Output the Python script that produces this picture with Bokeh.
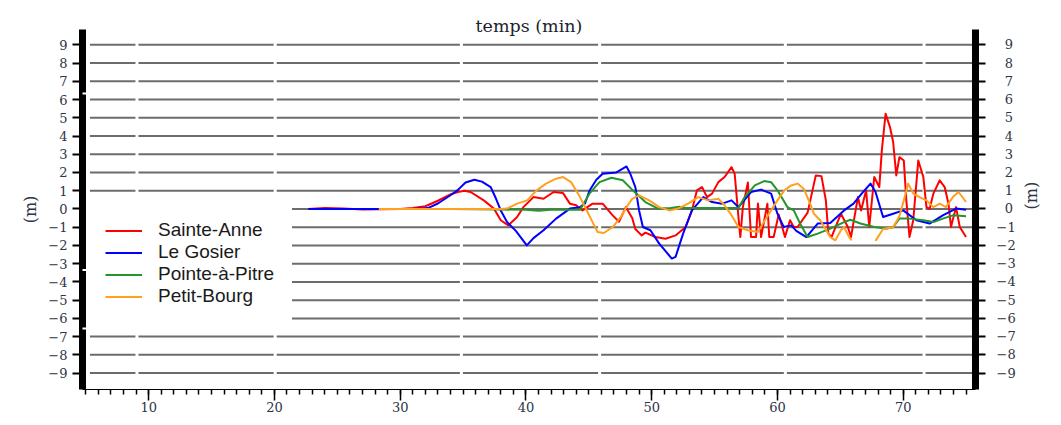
import math
from bokeh.plotting import figure
from bokeh.models import LinearAxis, FixedTicker, Range1d, Legend, LegendItem, BoxAnnotation
from bokeh.embed import file_html
from bokeh.resources import INLINE

# ---------------- data ----------------
series_names = ["Sainte-Anne", "Le Gosier", "Pointe-à-Pitre", "Petit-Bourg"]

t_sainte_anne = [22.7, 24.0, 25.5, 27.0, 28.5, 30.0, 31.0, 32.0, 33.0, 34.0, 34.6, 35.1, 35.6,
                 36.65, 37.45, 38.0, 38.6, 39.3, 39.8, 40.6, 41.4, 42.2, 42.95, 43.5, 44.0,
                 44.5, 45.3, 46.1, 46.9, 47.4, 47.95, 48.45, 48.7, 49.2, 49.5, 50.3, 51.1,
                 51.9, 52.7, 53.2, 53.6, 54.0, 54.4, 54.8, 55.3, 55.8, 56.35, 56.6, 56.9,
                 57.05, 57.25, 57.65, 57.9, 58.3, 58.45, 58.7, 59.2, 59.35, 59.7, 60.1, 60.6,
                 61.0, 61.3, 61.6, 62.4, 63.05, 63.5, 63.85, 64.05, 64.3, 65.05, 65.6, 65.85,
                 66.4, 66.65, 67.05, 67.3, 67.7, 68.1, 68.3, 68.6, 68.95, 69.2, 69.45, 69.7,
                 70.05, 70.25, 70.5, 70.8, 71.2, 71.6, 71.85, 72.1, 72.4, 72.9, 73.3, 73.6,
                 73.8, 74.2, 74.5, 75.0]
sainte_anne = [0.0, 0.05, 0.02, -0.03, -0.02, 0.0, 0.05, 0.15, 0.45, 0.8, 0.93, 1.0, 0.93,
               0.47, 0.02, -0.62, -0.9, -0.44, 0.1, 0.65, 0.56, 0.93, 0.87, 0.29, 0.2,
               -0.08, 0.29, 0.29, -0.35, -0.7, 0.1, -0.5, -1.1, -1.45, -1.3, -1.54, -1.63,
               -1.45, -0.99, -0.08, 1.02, 1.2, 0.65, 0.84, 1.47, 1.75, 2.29, 1.93, -0.44,
               -1.54, 0.1, 1.45, -1.54, -1.54, 0.3, -1.54, 0.29, -1.54, -1.54, -0.3, -1.54,
               -0.62, -0.99, -0.99, -0.2, 1.84, 1.8, 0.47, -1.35, -1.54, -0.26, -0.99, -1.54,
               0.65, -0.08, 1.02, -0.99, 1.75, 1.2, 3.2, 5.22, 4.49, 3.67, 1.84, 2.84,
               2.66, 0.47, -1.54, -0.62, 2.66, 1.75, 0.1, 0.0, 0.84, 1.57, 1.2, 0.29,
               -0.99, 0.1, -0.99, -1.54]

t_le_gosier = [22.7, 25.0, 28.0, 31.0, 32.2, 33.0, 34.0, 34.55, 35.2, 35.9, 36.5, 37.2, 37.6,
               38.0, 38.5, 39.2, 40.07, 40.6, 41.4, 42.4, 43.5, 44.3, 44.7, 45.05, 45.6,
               46.1, 47.2, 48.0, 48.3, 48.7, 49.0, 49.3, 49.9, 50.6, 51.6, 51.9, 52.5, 53.2,
               54.1, 54.8, 55.6, 56.35, 56.9, 57.9, 58.7, 59.5, 60.0, 60.5, 61.1, 61.5, 62.3,
               63.2, 64.2, 65.3, 66.05, 66.7, 67.4, 67.8, 68.4, 69.2, 70.0, 71.05, 72.1,
               73.15, 74.2, 75.0]
le_gosier = [0.0, 0.0, 0.0, 0.0, 0.05, 0.3, 0.75, 1.02, 1.45, 1.6, 1.5, 1.2, 0.6,
             -0.08, -0.72, -1.2, -2.0, -1.6, -1.17, -0.53, 0.02, 0.1, 0.3, 1.0, 1.6,
             1.93, 2.0, 2.33, 1.93, 1.2, -0.08, -0.99, -1.17, -1.9, -2.72, -2.63, -1.35, -0.08,
             0.65, 0.38, 0.29, 0.47, 0.1, 0.93, 1.06, 0.84, -0.26, -0.99, -0.9, -1.2, -1.54,
             -0.8, -0.77, -0.08, 0.29, 0.84, 1.39, 0.93, -0.44, -0.26, -0.08, -0.62, -0.8,
             -0.35, 0.02, -0.04]

t_pointe_a_pitre = [30.5, 34.0, 38.0, 40.0, 41.0, 42.0, 44.3, 45.05, 45.85, 46.8, 47.7, 48.5,
                    49.5, 50.5, 51.5, 52.2, 52.7, 54.0, 55.0, 56.9, 57.4, 58.2, 58.95, 59.5,
                    60.0, 60.8, 61.3, 61.8, 62.4, 63.2, 64.2, 65.3, 65.8, 66.6, 67.7, 68.7,
                    69.2, 69.7, 70.5, 71.6, 72.4, 73.15, 73.95, 75.0]
pointe_a_pitre = [0.0, 0.0, -0.03, -0.05, -0.1, -0.05, -0.04, 0.84, 1.47, 1.71, 1.57, 1.02,
                  0.38, 0.02, 0.05, 0.12, 0.05, 0.05, 0.05, 0.05, 0.65, 1.29, 1.53, 1.47,
                  1.02, 0.1, -0.08, -0.8, -1.54, -1.35, -1.08, -0.72, -0.59, -0.8, -0.99, -1.08,
                  -1.0, -0.53, -0.53, -0.62, -0.72, -0.53, -0.35, -0.4]

t_petit_bourg = [28.3, 32.0, 36.0, 38.0, 38.5, 39.3, 40.1, 40.85, 41.6, 42.4, 42.95, 43.6,
                 44.3, 44.9, 45.3, 45.7, 46.2, 46.9, 47.55, 47.95, 48.45, 49.0, 49.8, 50.6,
                 51.4, 52.1, 52.9, 53.7, 54.5, 55.3, 55.8, 56.35, 56.9, 57.65, 58.45, 59.0,
                 59.5, 60.0, 60.55, 61.1, 61.6, 62.1, 62.6, 62.9, 63.4, 64.2, 64.6, 65.05,
                 65.3, 65.7, 65.9, 66.8, 67.8, 68.4, 69.2, 69.7, 70.1, 70.4, 70.8, 71.3,
                 71.85, 72.4, 72.9, 73.4, 73.95, 74.4, 75.0]
petit_bourg = [0.0, 0.0, 0.0, 0.0, 0.02, 0.29, 0.47, 1.02, 1.39, 1.66, 1.75, 1.47,
               0.65, -0.17, -0.72, -1.26, -1.32, -0.99, -0.44, 0.05, 0.55, 0.74, 0.47, 0.1,
               -0.08, 0.02, 0.29, 0.65, 0.47, 0.56, 0.2, -0.35, -0.99, -1.17, -1.26, -0.62,
               -0.08, 0.47, 1.02, 1.29, 1.39, 1.1, 0.29, -0.26, -0.62, -1.54, -1.72, -1.17,
               -0.99, -1.54, -1.72, float("nan"), -1.75, -1.1, -1.0, -0.4, 0.6, 1.39, 0.84, 0.65,
               0.47, 0.1, 0.29, 0.1, 0.65, 0.93, 0.38]

x_major_ticks = [10, 20, 30, 40, 50, 60, 70]
x_minor_ticks = list(range(5, 76))
y_ticks = list(range(-9, 10))
y_tick_labels_left = {v: (("\u2212%d" % -v) if v < 0 else str(v)) for v in y_ticks}
# right-hand labels are right-aligned in the reference: pad non-negative ones with a figure space
y_tick_labels_right = {v: (("\u2212%d" % -v) if v < 0 else "\u2007" + str(v)) for v in y_ticks}

# ---------------- styling constants ----------------
X0, X1 = 4.74, 75.75
Y0, Y1 = -9.9, 9.84
GRID_GAPS = [9.07, 20.06, 34.87, 45.86, 60.63, 71.66]
GAP_HALF = 0.12
GRID_START_FULL = 5.33
GRID_START_LEGEND = 21.4
SERIF = "DejaVu Serif"
LABEL_COLOR = "#2d3446"
colors = ["#ff0000", "#0000ff", "#22962a", "#ffa020"]

p = figure(width=1053, height=417, x_range=Range1d(X0, X1), y_range=Range1d(Y0, Y1),
           output_backend="svg", toolbar_location=None,
           x_axis_location=None, y_axis_location=None,
           min_border_left=82, min_border_right=70, min_border_top=29, min_border_bottom=28)
p.grid.visible = False
p.outline_line_color = None
p.background_fill_color = "white"
p.border_fill_color = "white"


def style_y_axis(ax, standoff, labels):
    ax.ticker = FixedTicker(ticks=y_ticks, minor_ticks=[])
    ax.major_label_overrides = labels
    ax.axis_line_width = 7
    ax.axis_line_color = "black"
    ax.major_tick_in = 0
    ax.major_tick_out = 10
    ax.major_tick_line_width = 2
    ax.minor_tick_out = 0
    ax.minor_tick_in = 0
    ax.major_label_standoff = standoff
    ax.major_label_text_font = SERIF
    ax.major_label_text_font_size = "13px"
    ax.major_label_text_color = LABEL_COLOR
    ax.axis_label = "(m)"
    ax.axis_label_text_font = SERIF
    ax.axis_label_text_font_size = "16px"
    ax.axis_label_text_font_style = "normal"
    ax.axis_label_text_color = LABEL_COLOR


left = LinearAxis()
style_y_axis(left, 5, y_tick_labels_left)
left.axis_label_standoff = 5
p.add_layout(left, "left")

right = LinearAxis()
style_y_axis(right, 11, y_tick_labels_right)
right.axis_label_standoff = 13
right.axis_label_orientation = math.pi / 2
p.add_layout(right, "right")

bottom = LinearAxis(ticker=FixedTicker(ticks=x_major_ticks, minor_ticks=x_minor_ticks))
bottom.axis_line_width = 1.2
bottom.axis_line_color = "black"
bottom.major_tick_in = 0
bottom.major_tick_out = 11
bottom.minor_tick_in = 0
bottom.minor_tick_out = 5
bottom.major_tick_line_width = 1.5
bottom.minor_tick_line_width = 1.5
bottom.major_label_standoff = 1
bottom.major_label_text_font = SERIF
bottom.major_label_text_font_size = "13px"
bottom.major_label_text_color = LABEL_COLOR
p.add_layout(bottom, "below")

top = LinearAxis(ticker=FixedTicker(ticks=[], minor_ticks=[]))
top.axis_line_color = None
top.major_tick_out = 0
top.minor_tick_out = 0
top.axis_label = "temps (min)"
top.axis_label_standoff = -6
top.axis_label_text_font = SERIF
top.axis_label_text_font_size = "17.5px"
top.axis_label_text_font_style = "normal"
top.axis_label_text_color = "#1c1f2e"
p.add_layout(top, "above")

# horizontal reference lines (broken like in the reference)
gx0, gy0, gx1, gy1 = [], [], [], []
for yv in y_ticks:
    start = GRID_START_LEGEND if -6 <= yv <= 0 else GRID_START_FULL
    cuts = [g for g in GRID_GAPS if g > start]
    pos = start
    for g in cuts:
        gx0.append(pos); gx1.append(g - GAP_HALF); gy0.append(yv); gy1.append(yv)
        pos = g + GAP_HALF
    gx0.append(pos); gx1.append(X1); gy0.append(yv); gy1.append(yv)
p.segment(gx0, gy0, gx1, gy1, line_color="#6c6c6c", line_width=2)

times = [t_sainte_anne, t_le_gosier, t_pointe_a_pitre, t_petit_bourg]
values = [sainte_anne, le_gosier, pointe_a_pitre, petit_bourg]
items = []
for name, tt, vv, c in zip(series_names, times, values, colors):
    r = p.line(tt, vv, line_color=c, line_width=2, line_join="round")
    items.append(LegendItem(label=name, renderers=[r]))

legend = Legend(items=items, location=(23, 82), border_line_color=None,
                background_fill_alpha=0, padding=0, margin=0, spacing=-1,
                glyph_width=37, glyph_height=21, label_height=21, label_standoff=16,
                label_text_font="Liberation Sans", label_text_font_size="19px",
                label_text_color="#1a1a1a")
p.add_layout(legend)

# small white breaks in the thick vertical axes
for by in [93, 269.5, 328]:
    for bx in [(76, 88), (977, 989)]:
        p.add_layout(BoxAnnotation(left=bx[0], right=bx[1], top=by - 1, bottom=by + 1,
                                   left_units="canvas", right_units="canvas",
                                   top_units="canvas", bottom_units="canvas",
                                   fill_color="white", fill_alpha=1, line_color=None,
                                   level="overlay"))

open("out.html", "w").write(file_html(p, INLINE))
